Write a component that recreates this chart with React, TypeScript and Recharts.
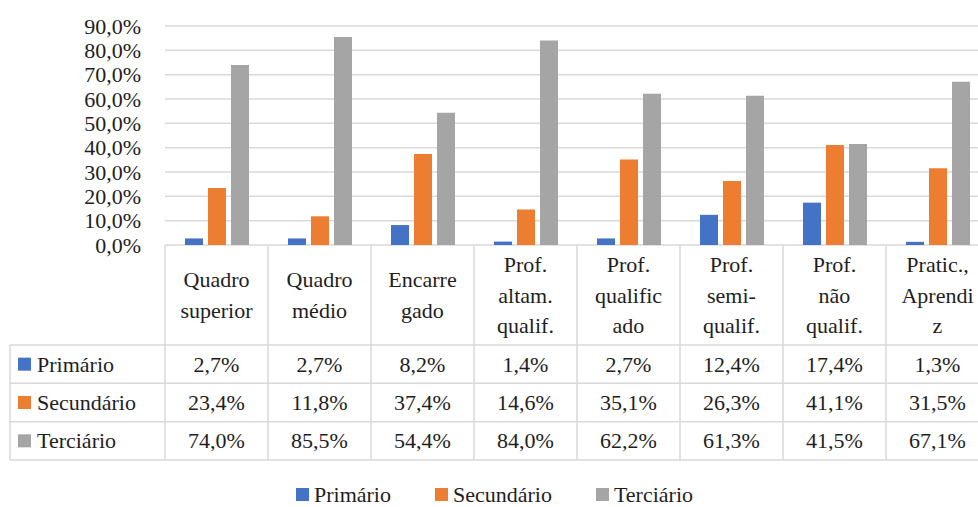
import { BarChart, Bar, XAxis, YAxis, CartesianGrid, Legend } from 'recharts';

const categories = [
  'Quadro\nsuperior',
  'Quadro\nmédio',
  'Encarre\ngado',
  'Prof.\naltam.\nqualif.',
  'Prof.\nqualific\nado',
  'Prof.\nsemi-\nqualif.',
  'Prof.\nnão\nqualif.',
  'Pratic.,\nAprendi\nz',
];
const primario = [2.7, 2.7, 8.2, 1.4, 2.7, 12.4, 17.4, 1.3];
const secundario = [23.4, 11.8, 37.4, 14.6, 35.1, 26.3, 41.1, 31.5];
const terciario = [74.0, 85.5, 54.4, 84.0, 62.2, 61.3, 41.5, 67.1];
const yTicks = [0, 10, 20, 30, 40, 50, 60, 70, 80, 90];

const series = [
  { key: 'primario', name: 'Primário', color: '#4472C4', values: primario },
  { key: 'secundario', name: 'Secundário', color: '#ED7D31', values: secundario },
  { key: 'terciario', name: 'Terciário', color: '#A5A5A5', values: terciario },
];

const data = categories.map((c, i) => ({
  name: c,
  primario: primario[i],
  secundario: secundario[i],
  terciario: terciario[i],
}));

const WIDTH = 1000;
const HEIGHT = 507;
const MARGIN = { top: 26, right: 11, left: 0, bottom: 0 };
const Y_AXIS_W = 165;
const X_AXIS_H = 215;
const LEGEND_H = 47;
const COL_W = (WIDTH - MARGIN.left - MARGIN.right - Y_AXIS_W) / categories.length;
const HEADER_H = 100;
const TABLE_LEFT = 10;
const FONT = '"Times New Roman", "Liberation Serif", serif';
const TEXT = '#1e1e1e';
const LINE = '#d9d9d9';

const fmt = (v: number) => v.toFixed(1).replace('.', ',') + '%';

// x axis tick doubles as the data table column under each category
function TableTick(props: any) {
  const { x, y, payload, index } = props;
  const half = COL_W / 2;
  const left = x - half;
  const right = x + half;
  const bottom = y + X_AXIS_H;
  const rowH = (X_AXIS_H - HEADER_H) / series.length;
  const lines = String(payload.value).split('\n');
  const rowTops = series.map((_, r) => y + HEADER_H + r * rowH);
  const txt = { fontFamily: FONT, fontSize: 22, fill: TEXT };
  return (
    <g>
      <line x1={left} y1={y} x2={left} y2={bottom} stroke={LINE} strokeWidth={1.5} />
      {index === categories.length - 1 && (
        <line x1={right} y1={y} x2={right} y2={bottom} stroke={LINE} strokeWidth={1.5} />
      )}
      {[...rowTops, bottom].map((ry, k) => (
        <line key={k} x1={index === 0 ? TABLE_LEFT : left} y1={ry} x2={right} y2={ry} stroke={LINE} strokeWidth={1.5} />
      ))}
      {index === 0 && (
        <line x1={TABLE_LEFT} y1={y + HEADER_H} x2={TABLE_LEFT} y2={bottom} stroke={LINE} strokeWidth={1.5} />
      )}
      {lines.map((ln, i) => (
        <text
          key={i}
          style={txt}
          x={x}
          y={y + HEADER_H / 2 + (i - (lines.length - 1) / 2) * 30.5}
          textAnchor="middle"
          dominantBaseline="central"
        >
          {ln}
        </text>
      ))}
      {series.map((s, r) => (
        <text key={s.key} style={txt} x={x} y={rowTops[r] + rowH / 2} textAnchor="middle" dominantBaseline="central">
          {fmt(s.values[index])}
        </text>
      ))}
      {index === 0 &&
        series.map((s, r) => (
          <g key={'l' + s.key}>
            <rect x={18} y={rowTops[r] + rowH / 2 - 6.5} width={13} height={13} fill={s.color} />
            <text style={txt} x={37} y={rowTops[r] + rowH / 2} dominantBaseline="central">
              {s.name}
            </text>
          </g>
        ))}
    </g>
  );
}

function LegendContent() {
  return (
    <div
      style={{
        display: 'flex',
        justifyContent: 'center',
        alignItems: 'center',
        height: LEGEND_H,
        paddingTop: 22,
        boxSizing: 'border-box',
        fontFamily: FONT,
        fontSize: 22,
        color: TEXT,
      }}
    >
      {series.map((s) => (
        <div key={s.key} style={{ display: 'flex', alignItems: 'center', margin: '0 22px' }}>
          <span style={{ width: 13, height: 13, background: s.color, marginRight: 5, display: 'inline-block' }} />
          <span>{s.name}</span>
        </div>
      ))}
    </div>
  );
}

export default function App() {
  return (
    <div
      style={{
        position: 'absolute',
        left: 0,
        top: 0,
        width: 978,
        height: 507,
        overflow: 'hidden',
        background: '#fff',
        fontFamily: FONT,
      }}
    >
      <BarChart width={WIDTH} height={HEIGHT} data={data} margin={MARGIN} barSize={18} barGap={5}>
        <CartesianGrid vertical={false} stroke={LINE} strokeWidth={1.5} />
        <YAxis
          width={Y_AXIS_W}
          domain={[0, 90]}
          ticks={yTicks}
          interval={0}
          tickFormatter={fmt}
          axisLine={false}
          tickLine={false}
          tickSize={0}
          tickMargin={24}
          tick={{ fontSize: 22, fill: TEXT, style: { fontFamily: FONT } }}
        />
        <XAxis
          dataKey="name"
          height={X_AXIS_H}
          interval={0}
          axisLine={false}
          tickLine={false}
          tickSize={0}
          tickMargin={0}
          tick={<TableTick />}
        />
        <Legend verticalAlign="bottom" height={LEGEND_H} content={<LegendContent />} />
        {series.map((s) => (
          <Bar key={s.key} dataKey={s.key} name={s.name} fill={s.color} isAnimationActive={false} />
        ))}
      </BarChart>
    </div>
  );
}
